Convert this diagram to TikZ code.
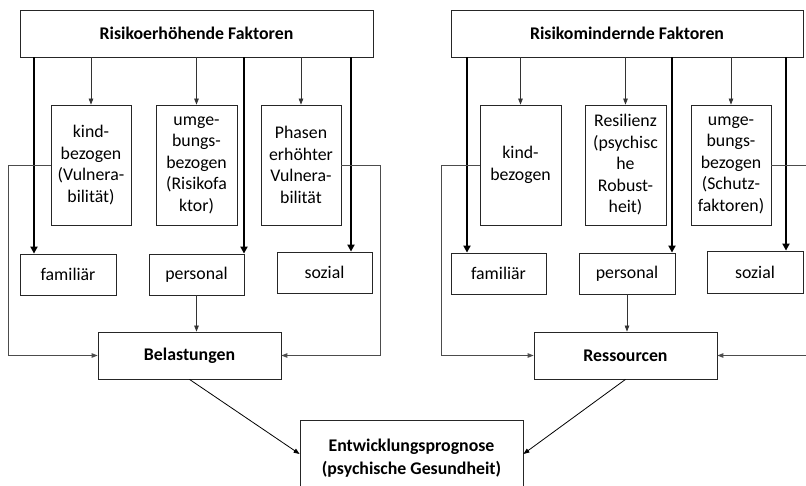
\documentclass[tikz,border=0pt]{standalone}
\usepackage{fontspec}
\setmainfont{Carlito}
\usetikzlibrary{arrows.meta}

\begin{document}
\begin{tikzpicture}[x=1pt,y=-1pt,
	box/.style={draw=black!85, line width=0.8pt, inner sep=0pt, align=center, font=\fontsize{17.8}{21.5}\selectfont},
	head/.style={box, minimum height=47pt, font=\fontsize{17.8}{22.5}\selectfont\bfseries},
	tall/.style={box, minimum width=80pt, minimum height=120pt},
	low/.style={box, minimum width=96pt, minimum height=41pt},
	arr/.style={draw=black!80, line width=0.8pt, -{Triangle[length=6pt,width=4.5pt]}},
	bigarr/.style={draw=black, line width=2.2pt, -{Triangle[length=7pt,width=7pt]}},
	side/.style={draw=black!70, line width=0.9pt, -{Triangle[length=6pt,width=4.5pt]}}]
	\useasboundingbox (0,0) rectangle (806,486);
	\clip (0,0) rectangle (806,486);

	% risikoerhoehend
	\node[head, minimum width=353pt] (riskUp) at (196.5,33.5) {Risikoerhöhende Faktoren};
	\node[tall] (kindL) at (91,165) {kind-\\bezogen\\(Vulnera-\\bilität)};
	\node[tall, minimum width=81pt] (umgL) at (196.5,165) {umge-\\bungs-\\bezogen\\(Risikofa\\ktor)};
	\node[tall] (phasL) at (301,165) {Phasen\\erhöhter\\Vulnera-\\bilität};
	\node[low] (famL) at (68,274.5) {familiär};
	\node[low, minimum width=95pt] (persL) at (196.5,274.5) {personal};
	\node[low, minimum width=95pt] (sozL) at (324.5,272.5) {sozial};
	\node[head, minimum width=183pt] (belast) at (189.5,355.5) {Belastungen};

	\coordinate (tL1) at (34,0);
	\coordinate (tL2) at (244,0);
	\coordinate (tL3) at (351,0);
	\coordinate (cL1) at (8,0);
	\coordinate (cL2) at (380,0);

	\draw[arr] (riskUp.south -| kindL) -- (kindL.north);
	\draw[arr] (riskUp.south -| umgL) -- (umgL.north);
	\draw[arr] (riskUp.south -| phasL) -- (phasL.north);
	\draw[bigarr] (riskUp.south -| tL1) -- (famL.north -| tL1);
	\draw[bigarr] (riskUp.south -| tL2) -- (persL.north -| tL2);
	\draw[bigarr] (riskUp.south -| tL3) -- (sozL.north -| tL3);
	\draw[arr] (persL.south) -- (persL.south |- belast.north);
	\draw[side] (kindL.west) -- (kindL.west -| cL1) |- (belast.west);
	\draw[side] (phasL.east) -- (phasL.east -| cL2) |- (belast.east);

	% risikomindernd
	\node[head, minimum width=352pt] (riskDown) at (627,33.5) {Risikomindernde Faktoren};
	\node[tall, minimum width=81pt] (kindR) at (520.5,165) {kind-\\bezogen};
	\node[tall, minimum width=81pt] (resil) at (625.5,165) {Resilienz\\(psychisc\\he\\Robust-\\heit)};
	\node[tall] (umgR) at (731,165) {umge-\\bungs-\\bezogen\\(Schutz-\\faktoren)};
	\node[low, minimum width=95pt] (famR) at (498.5,273.5) {familiär};
	\node[low] (persR) at (627,273.5) {personal};
	\node[low, minimum height=42pt] (sozR) at (755,272) {sozial};
	\node[head, minimum width=183pt] (ressour) at (625.5,355.5) {Ressourcen};

	\coordinate (tR1) at (467,0);
	\coordinate (tR2) at (672,0);
	\coordinate (tR3) at (786,0);
	\coordinate (cR1) at (441,0);
	\coordinate (cR2) at (814,0);

	\draw[arr] (riskDown.south -| kindR) -- (kindR.north);
	\draw[arr] (riskDown.south -| resil) -- (resil.north);
	\draw[arr] (riskDown.south -| umgR) -- (umgR.north);
	\draw[bigarr] (riskDown.south -| tR1) -- (famR.north -| tR1);
	\draw[bigarr] (riskDown.south -| tR2) -- (persR.north -| tR2);
	\draw[bigarr] (riskDown.south -| tR3) -- (sozR.north -| tR3);
	\draw[arr] (persR.south) -- (persR.south |- ressour.north);
	\draw[side] (kindR.west) -- (kindR.west -| cR1) |- (ressour.west);
	\draw[side] (umgR.east) -- (umgR.east -| cR2) |- (ressour.east);

	% prognose
	\node[head, minimum width=223pt, minimum height=76pt] (entw) at (411.5,458) {Entwicklungsprognose\\(psychische Gesundheit)};
	\draw[arr, draw=black] (belast.south) -- ([yshift=4pt]entw.west);
	\draw[arr, draw=black] (ressour.south) -- ([yshift=4pt]entw.east);
\end{tikzpicture}
\end{document}
